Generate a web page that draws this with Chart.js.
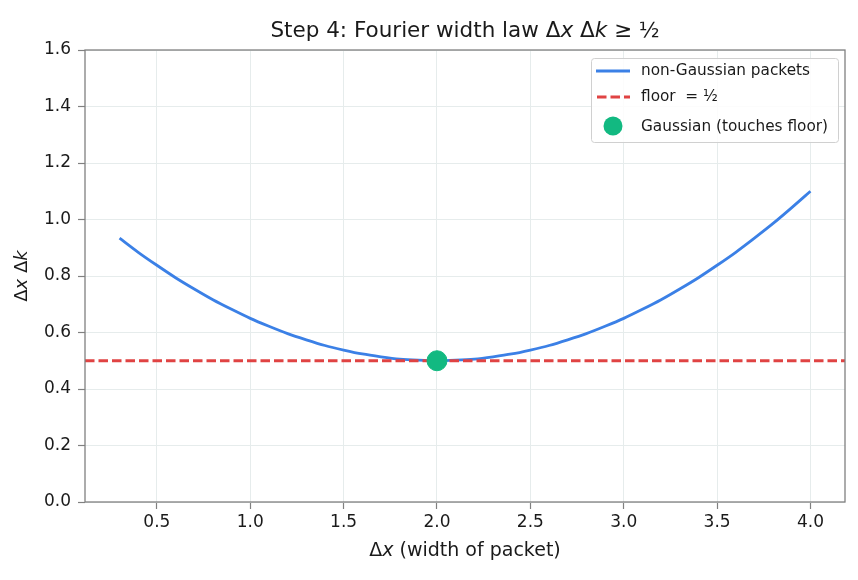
<!DOCTYPE html>
<html>
<head>
<meta charset="utf-8">
<script src="https://cdn.jsdelivr.net/npm/chart.js@4"></script>
<style>
  html, body { margin: 0; padding: 0; background: #fff; }
  #wrap { width: 858px; height: 580px; position: relative; }
</style>
</head>
<body>
<div id="wrap"><canvas id="chartCanvas" width="858" height="580"></canvas></div>
<script>
// Ancho del paquete (eje x)
const anchoX = [0.3, 0.4, 0.5, 0.6, 0.7, 0.8, 0.9, 1.0, 1.1, 1.2, 1.3, 1.4, 1.5, 1.6, 1.7, 1.8, 1.9, 2.0,
                2.1, 2.2, 2.3, 2.4, 2.5, 2.6, 2.7, 2.8, 2.9, 3.0, 3.1, 3.2, 3.3, 3.4, 3.5, 3.6, 3.7, 3.8, 3.9, 4.0];
// Producto Δx Δk
const producto = [0.934, 0.884, 0.838, 0.794, 0.754, 0.716, 0.682, 0.650, 0.622, 0.596, 0.574, 0.554, 0.538, 0.524, 0.514, 0.506, 0.502, 0.500,
                  0.502, 0.506, 0.514, 0.524, 0.538, 0.554, 0.574, 0.596, 0.622, 0.650, 0.682, 0.716, 0.754, 0.794, 0.838, 0.884, 0.934, 0.986, 1.042, 1.100];
// Piso de la desigualdad
const piso = 0.5;
const limitesX = [0.115, 4.185];
// Punto gaussiano
const gaussX = [2.0];
const gaussY = [0.5];
// Ticks
const ticksX = [0.5, 1.0, 1.5, 2.0, 2.5, 3.0, 3.5, 4.0];
const ticksY = [0.0, 0.2, 0.4, 0.6, 0.8, 1.0, 1.2, 1.4, 1.6];

const azul = '#3b80e6';
const rojo = '#e04343';
const verde = '#12b981';
const texto = '#1a1a1a';
const fuente = "'DejaVu Sans', sans-serif";

// Dibuja un texto con tramos normales e itálicos, centrado en (x, y)
function textoMixto(c, partes, x, y, size) {
    const fontDe = p => (p.it ? 'italic ' : '') + size + 'px ' + fuente;
    let total = 0;
    partes.forEach(p => { c.font = fontDe(p); total += c.measureText(p.t).width; });
    let cx = x - total / 2;
    c.textAlign = 'left';
    partes.forEach(p => {
        c.font = fontDe(p);
        c.fillText(p.t, cx, y);
        cx += c.measureText(p.t).width;
    });
}

// Título, etiquetas, marco y leyenda dibujados a mano
const extras = {
    id: 'extras',
    afterDraw(chart) {
        const c = chart.ctx;
        const a = chart.chartArea;
        c.save();
        // marco
        c.strokeStyle = '#808080';
        c.lineWidth = 1.3;
        c.strokeRect(a.left, a.top, a.right - a.left, a.bottom - a.top);
        c.fillStyle = texto;
        c.textBaseline = 'middle';
        // título
        textoMixto(c, [
            { t: 'Step 4: Fourier width law Δ' }, { t: 'x', it: true },
            { t: ' Δ' }, { t: 'k', it: true }, { t: ' ≥ ½' }
        ], 465, 31, 21.5);
        // etiqueta eje x
        textoMixto(c, [{ t: 'Δ' }, { t: 'x', it: true }, { t: ' (width of packet)' }], 465, 551, 19);
        // etiqueta eje y
        c.save();
        c.translate(22, (a.top + a.bottom) / 2);
        c.rotate(-Math.PI / 2);
        textoMixto(c, [{ t: 'Δ' }, { t: 'x', it: true }, { t: ' Δ' }, { t: 'k', it: true }], 0, 0, 18);
        c.restore();
        // leyenda
        const lx = 591, ly = 58, lw = 247, lh = 84;
        c.fillStyle = 'rgba(255,255,255,0.85)';
        c.strokeStyle = '#d0d0d0';
        c.lineWidth = 1;
        c.beginPath();
        c.roundRect(lx + 0.5, ly + 0.5, lw, lh, 3);
        c.fill();
        c.stroke();
        c.font = "15.3px " + fuente;
        c.textAlign = 'left';
        c.fillStyle = texto;
        c.lineWidth = 2.8;
        c.strokeStyle = azul;
        c.beginPath(); c.moveTo(596, 71); c.lineTo(630, 71); c.stroke();
        c.fillText('non-Gaussian packets', 641, 71);
        c.strokeStyle = rojo;
        c.setLineDash([9.5, 4]);
        c.beginPath(); c.moveTo(597, 97); c.lineTo(630, 97); c.stroke();
        c.setLineDash([]);
        c.fillText('floor  = ½', 641, 97);
        c.fillStyle = verde;
        c.beginPath(); c.arc(613, 126, 9.5, 0, Math.PI * 2); c.fill();
        c.fillStyle = texto;
        c.fillText('Gaussian (touches floor)', 641, 127);
        c.restore();
    }
};

const ctx = document.getElementById('chartCanvas').getContext('2d');
new Chart(ctx, {
    type: 'scatter',
    data: {
        datasets: [
            {
                label: 'Gaussian',
                data: gaussX.map((x, i) => ({ x: x, y: gaussY[i] })),
                backgroundColor: verde,
                borderColor: verde,
                pointRadius: 10
            },
            {
                label: 'floor',
                data: limitesX.map(x => ({ x: x, y: piso })),
                showLine: true,
                borderColor: rojo,
                borderWidth: 2.8,
                borderDash: [9.5, 4],
                pointRadius: 0
            },
            {
                label: 'non-Gaussian packets',
                data: anchoX.map((x, i) => ({ x: x, y: producto[i] })),
                showLine: true,
                borderColor: azul,
                borderWidth: 2.8,
                pointRadius: 0,
                tension: 0.3
            }
        ]
    },
    options: {
        responsive: false,
        animation: false,
        layout: { padding: { top: 50, right: 13, left: 0, bottom: 0 } },
        plugins: {
            legend: { display: false },
            tooltip: { enabled: false }
        },
        scales: {
            x: {
                type: 'linear',
                min: limitesX[0],
                max: limitesX[1],
                afterBuildTicks: s => { s.ticks = ticksX.map(v => ({ value: v })); },
                afterFit: s => { s.height = 78; },
                ticks: {
                    color: texto,
                    font: { family: fuente, size: 17 },
                    padding: 3,
                    maxRotation: 0,
                    callback: v => v.toFixed(1)
                },
                grid: { color: '#e6ecec', tickColor: '#808080', tickLength: 7, tickWidth: 1.2 },
                border: { display: false }
            },
            y: {
                type: 'linear',
                min: 0,
                max: 1.6,
                afterBuildTicks: s => { s.ticks = ticksY.map(v => ({ value: v })); },
                afterFit: s => { s.width = 85; },
                ticks: {
                    color: texto,
                    font: { family: fuente, size: 17 },
                    padding: 7,
                    callback: v => v.toFixed(1)
                },
                grid: { color: '#e6ecec', tickColor: '#808080', tickLength: 7, tickWidth: 1.2 },
                border: { display: false }
            }
        }
    },
    plugins: [extras]
});
</script>
</body>
</html>
